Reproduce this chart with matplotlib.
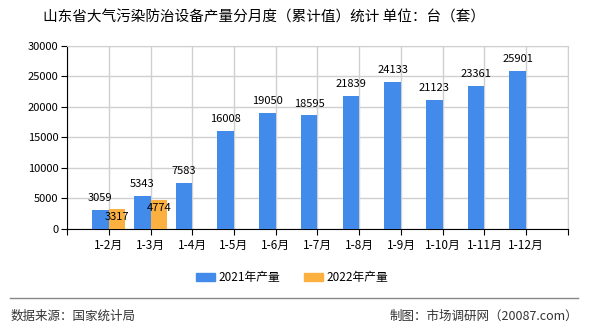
import matplotlib
matplotlib.use("Agg")
import matplotlib.pyplot as plt
from matplotlib.patches import Patch
from matplotlib.lines import Line2D
import numpy as np

plt.rcParams["font.family"] = ["Noto Sans CJK SC", "DejaVu Sans"]

categories = ["1-2月", "1-3月", "1-4月", "1-5月", "1-6月", "1-7月",
              "1-8月", "1-9月", "1-10月", "1-11月", "1-12月"]
values_2021 = [3059, 5343, 7583, 16008, 19050, 18595, 21839, 24133, 21123, 23361, 25901]
values_2022 = [3317, 4774]

blue = "#428BEA"
orange = "#FBB040"

fig = plt.figure(figsize=(5.9, 3.3), dpi=100)
ax = fig.add_axes([0.1136, 0.306, 0.849, 0.555])

x = np.arange(1, len(categories) + 1)
w = 0.4
ax.bar(x - w / 2, values_2021, width=w, color=blue, zorder=3)
ax.bar(x[:len(values_2022)] + w / 2, values_2022, width=w, color=orange, zorder=3)

for xi, v in zip(x, values_2021):
    ax.annotate(str(v), (xi - w / 2, v), xytext=(0, 5), textcoords="offset points",
                ha="center", va="bottom", fontsize=8, zorder=4)
for xi, v in zip(x, values_2022):
    ax.annotate(str(v), (xi + w / 2, v), xytext=(0, -6), textcoords="offset points",
                ha="center", va="center", fontsize=8, zorder=4)

ax.set_xlim(0, 12)
ax.set_ylim(0, 30000)
ax.set_yticks(range(0, 30001, 5000))
ax.set_xticks(np.arange(0, 13))
ax.set_xticklabels([""] + categories + [""], fontsize=8.5)
ax.tick_params(axis="y", labelsize=8, length=4, pad=2)
ax.tick_params(axis="x", length=4, pad=3)
ax.grid(True, color="#d0d0d0", linewidth=1, zorder=0)
ax.spines["top"].set_color("#d0d0d0")
ax.spines["right"].set_color("#d0d0d0")

fig.text(0.448, 0.948, "山东省大气污染防治设备产量分月度（累计值）统计 单位：台（套）",
         ha="center", va="center", fontsize=10.5)

handles = [Patch(color=blue, label="2021年产量"), Patch(color=orange, label="2022年产量")]
fig.legend(handles=handles, loc="center", bbox_to_anchor=(0.495, 0.158), ncol=2,
           frameon=False, fontsize=8.5, handlelength=1.6, handleheight=0.7,
           columnspacing=2.0, handletextpad=0.3)

fig.add_artist(Line2D([0.017, 0.98], [0.097, 0.097], color="#888888", linewidth=1))
fig.text(0.017, 0.042, "数据来源：国家统计局", ha="left", va="center", fontsize=9, color="#333333")
fig.text(0.98, 0.042, "制图：市场调研网（20087.com）", ha="right", va="center", fontsize=9, color="#333333")

fig.savefig("out.png", dpi=100)
